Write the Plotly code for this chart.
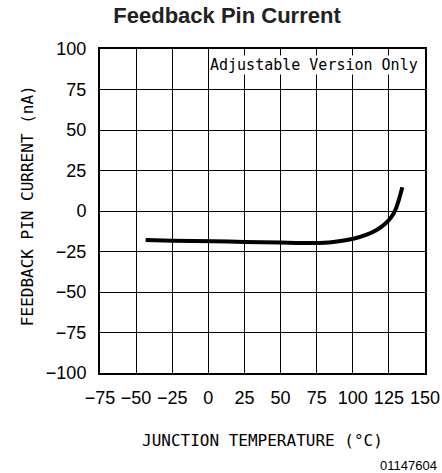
import plotly.graph_objects as go

# Data
temp_c = [-43.4, -25, 3.5, 25, 49.6, 72.7, 86.5, 100.4, 109.6, 116.5, 122.3, 126.9, 129.9, 132.2, 134.3]
fb_current_na = [-17.9, -18.3, -18.6, -19.1, -19.5, -19.8, -19.1, -17.1, -14.6, -11.7, -8.0, -3.5, 1.6, 7.8, 14.6]

x_ticks = [-75, -50, -25, 0, 25, 50, 75, 100, 125, 150]
y_ticks = [-100, -75, -50, -25, 0, 25, 50, 75, 100]

title_text = "Feedback Pin Current"
x_title = "JUNCTION TEMPERATURE (°C)"
y_title = "FEEDBACK PIN CURRENT (nA)"
note_text = "Adjustable Version Only"
fig_id = "01147604"

tick_font = dict(family="Liberation Sans, Arial, sans-serif", size=18, color="#000")
mono = "DejaVu Sans Mono, monospace"

fig = go.Figure()
fig.add_trace(go.Scatter(
    x=temp_c, y=fb_current_na, mode="lines",
    line=dict(color="#000", width=4, shape="spline", smoothing=0.7),
    showlegend=False, hoverinfo="skip",
))

fig.update_layout(
    width=442, height=473,
    margin=dict(l=100, r=17, t=49, b=100),
    paper_bgcolor="white", plot_bgcolor="white",
    title=dict(text="<b>" + title_text + "</b>", x=0.5136, xanchor="center",
               y=0.967, yanchor="middle",
               font=dict(family="Liberation Sans, Arial, sans-serif", size=22, color="#222")),
    xaxis=dict(range=[-75, 150], tickvals=x_ticks, ticktext=[str(v).replace("-", "−") for v in x_ticks],
               showgrid=True, gridcolor="#000", gridwidth=1.3, zeroline=False,
               showline=True, linecolor="#000", linewidth=2, mirror=True,
               ticks="", tickfont=tick_font, ticklabelstandoff=7, automargin=False,
               ticklabeloverflow="allow"),
    yaxis=dict(range=[-100, 100], tickvals=y_ticks, ticktext=[str(v).replace("-", "−") for v in y_ticks],
               showgrid=True, gridcolor="#000", gridwidth=1.3, zeroline=False,
               showline=True, linecolor="#000", linewidth=2, mirror=True,
               ticks="", tickfont=tick_font, ticklabelstandoff=8, automargin=False,
               ticklabeloverflow="allow"),
)

fig.add_annotation(x=0, y=100, xref="x", yref="y", xanchor="left", yanchor="middle",
                   text=note_text, showarrow=False, bgcolor="white",
                   font=dict(family=mono, size=15, color="#000"),
                   xshift=1, yshift=-16, borderpad=0)
fig.add_annotation(x=0.4985, y=0, xref="paper", yref="paper", xanchor="center", yanchor="middle",
                   text=x_title, showarrow=False,
                   font=dict(family=mono, size=16, color="#000"), yshift=-67)
fig.add_annotation(x=0, y=0.515, xref="paper", yref="paper", xanchor="center", yanchor="middle",
                   text=y_title, showarrow=False, textangle=-90,
                   font=dict(family=mono, size=16, color="#000"), xshift=-73)
fig.add_annotation(x=1, y=0, xref="paper", yref="paper", xanchor="right", yanchor="middle",
                   text=fig_id, showarrow=False,
                   font=dict(family="Liberation Sans, Arial, sans-serif", size=13, color="#000"),
                   yshift=-92, xshift=14)

fig.write_html("out.html", config={"displayModeBar": False},
               post_script="document.body.style.margin='0';document.body.style.overflow='hidden';")
